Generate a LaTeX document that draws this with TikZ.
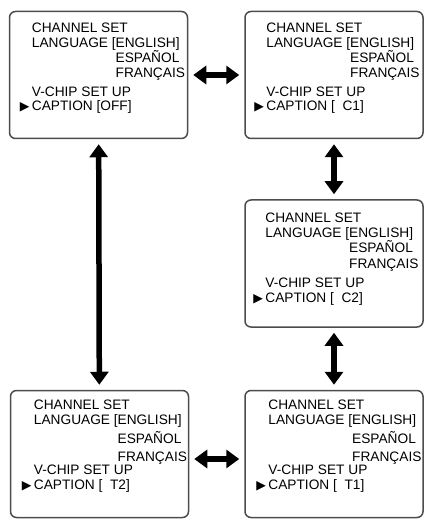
\documentclass[tikz,border=0pt]{standalone}
\usepackage{fontspec}
\setmainfont{Liberation Sans}
\newfontfamily\symfont{DejaVu Sans}
\usetikzlibrary{arrows.meta,positioning,calc}
\tikzset{
  box/.style={draw=black!70,line width=1.5pt,rounded corners=6pt,minimum width=178pt,minimum height=127pt,inner sep=0pt},
  txt/.style={anchor=north west,align=left,inner sep=0pt,font=\fontsize{13.7}{14.5}\selectfont},
  arr/.style={{Triangle[length=13pt,width=18pt]}-{Triangle[length=13pt,width=18pt]},line width=5.5pt,shorten <=5pt,shorten >=5pt},
}
\newcommand{\menu}[4]{CHANNEL SET\\%
LANGUAGE [ENGLISH]\\[#2]%
\phantom{LANGUAGE [}ESPAÑOL\\[#3]%
\phantom{LANGUAGE [}FRANÇAIS\\[#4]%
V-CHIP SET UP\\%
\llap{{\symfont\fontsize{12.5}{12.5}\selectfont ▶}\hspace{2.5pt}}CAPTION #1}

\begin{document}
\begin{tikzpicture}
 \useasboundingbox (0,0) rectangle (426pt,-521pt);
 \node[box] (b1) at (98.5pt,-75pt) {};
 \node[box,right=56pt of b1] (b2) {};
 \node[box,below=60pt of b2] (b3) {};
 \node[box,below=62pt of b3] (b5) {};
 \node[box,left=55pt of b5] (b4) {};
 \node[txt] (t1) at ($(b1.north west)+(23pt,-12pt)$) {\menu{[OFF]}{0pt}{0pt}{4.5pt}};
 \node[txt] (t2) at ($(b2.north west)+(22pt,-12pt)$) {\menu{[\ \ C1]}{0pt}{0pt}{4.5pt}};
 \node[txt] (t3) at ($(b3.north west)+(21pt,-13.5pt)$) {\menu{[\ \ C2]}{0pt}{1pt}{5pt}};
 \node[txt] (t4) at ($(b4.north west)+(24pt,-10pt)$) {\menu{[\ \ T2]}{4pt}{3.5pt}{-1.5pt}};
 \node[txt] (t5) at ($(b5.north west)+(24pt,-10pt)$) {\menu{[\ \ T1]}{4pt}{3.5pt}{-1.5pt}};
 \draw[arr] (b1) -- (b2); \draw[arr] (b2) -- (b3); \draw[arr] (b3) -- (b5);
 \draw[arr] (b1) -- (b4);
 \draw[arr] ([yshift=-5pt]b4.east) -- ([yshift=-5pt]b5.west);
\end{tikzpicture}
\end{document}
